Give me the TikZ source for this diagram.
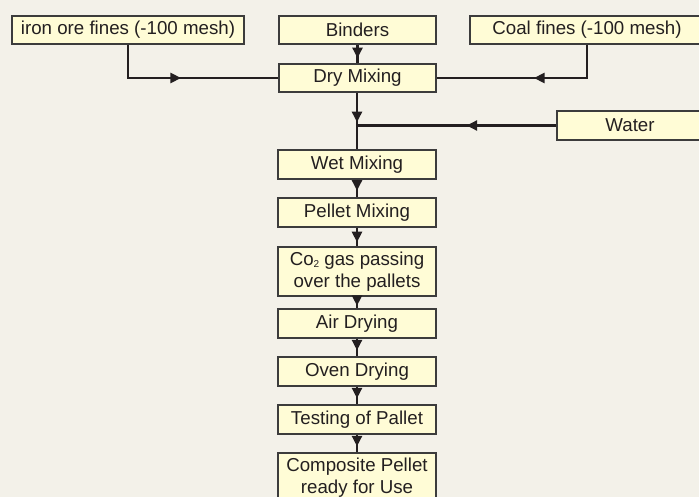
\documentclass[tikz,border=0pt]{standalone}
\usepackage{fontspec}
\setmainfont{Liberation Sans}
\usetikzlibrary{arrows.meta,decorations.markings}
\definecolor{bg}{HTML}{F3F1E9}
\definecolor{boxfill}{HTML}{FFFCD6}
\definecolor{ink}{HTML}{231F20}
\definecolor{edge}{HTML}{3C3C3C}
\newcommand{\subtwo}{\raisebox{-2.5pt}{\fontsize{10}{10}\selectfont 2}}
\begin{document}
\begin{tikzpicture}[x=1pt,y=-1pt,
  box/.style={draw=edge, line width=1.3pt, fill=boxfill, text=ink, inner sep=0pt,
    minimum height=28pt, font=\fontsize{18.7}{22}\selectfont, align=center},
  flow/.style={draw=ink, line width=2.4pt},
  midarrow/.style={postaction={decorate}, decoration={markings,
    mark=at position #1 with {\arrow[ink]{Triangle[length=10.5pt,width=10pt]}}}}]
\fill[bg] (0,0) rectangle (699,497);
\useasboundingbox (0,0) rectangle (699,497);

\node[box, minimum width=232pt] (iron) at (128,30) {iron ore fines (-100 mesh)};
\node[box, minimum width=157pt] (bind) at (357.5,30) {Binders};
\node[box, minimum width=234pt] (coal) at (587,30) {Coal fines (-100 mesh)};
\node[box, minimum width=157pt] (dry) at (357.5,78) {Dry Mixing};
\node[box, minimum width=146pt, minimum height=29pt] (water) at (630,125.5) {Water};
\node[box, minimum width=158pt, minimum height=29pt] (wet) at (357,164.5) {Wet Mixing};
\node[box, minimum width=158pt, minimum height=29pt] (pellet) at (357,212.5) {Pellet Mixing};
\node[box, minimum width=158pt, minimum height=49pt] (co2) at (357,271.5) {Co\subtwo{} gas passing\\over the pallets};
\node[box, minimum width=158pt, minimum height=29pt] (air) at (357,323.5) {Air Drying};
\node[box, minimum width=158pt, minimum height=29pt] (oven) at (357,371.5) {Oven Drying};
\node[box, minimum width=158pt, minimum height=29pt] (test) at (357,419.5) {Testing of Pallet};
\node[box, minimum width=158pt, minimum height=50pt] (comp) at (357,478) {Composite Pellet\\ready for Use};

\coordinate (jn) at (wet.north |- water.west);

\draw[flow, midarrow=0.47] (iron.south) |- (dry.west);
\draw[flow, midarrow=0.47] (coal.south) |- (dry.east);
\draw[flow, midarrow=0.72] (bind.south) -- (dry.north);
\draw[flow, midarrow=0.52] (dry.south -| wet.north) -- (wet.north);
\draw[flow, midarrow=0.45] (water.west) -- (jn);
\draw[flow, midarrow=0.62] (wet.south) -- (pellet.north);
\draw[flow, midarrow=0.78] (pellet.south) -- (co2.north);
\draw[flow, midarrow=0.78] (co2.south) -- (air.north);
\draw[flow, midarrow=0.66] (air.south) -- (oven.north);
\draw[flow, midarrow=0.66] (oven.south) -- (test.north);
\draw[flow, midarrow=0.66] (test.south) -- (comp.north);
\end{tikzpicture}
\end{document}
